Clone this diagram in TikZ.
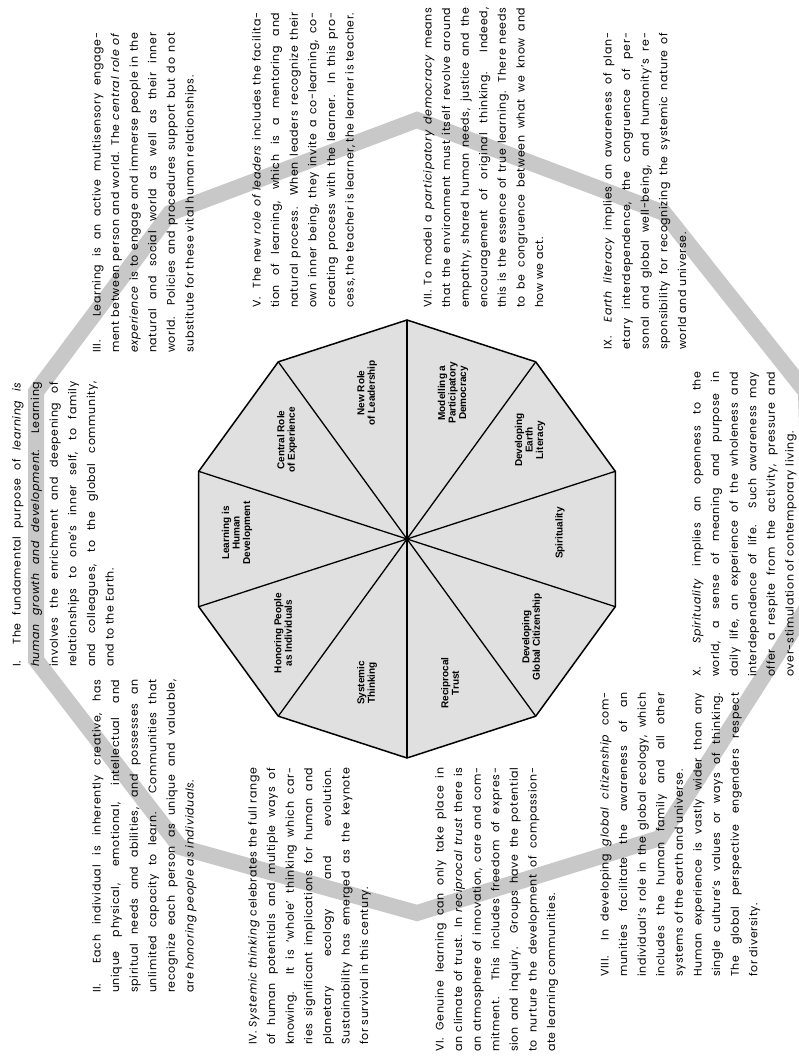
\documentclass[tikz,border=0pt]{standalone}
\usepackage{fontspec}
\usepackage{graphicx}
\setmainfont{Poppins}[LetterSpace=6]
\newfontfamily\labfont{Liberation Sans}
\usetikzlibrary{calc}
\definecolor{bandgray}{HTML}{C8C8C8}
\definecolor{secgray}{HTML}{E0E0E0}
\newlength{\blockw}
\newlength{\tmpw}
\newcommand{\J}[1]{\settowidth{\tmpw}{#1}%
  \ifdim\tmpw>\blockw\resizebox{\blockw}{\height}{#1}\else\makebox[\blockw][s]{#1}\fi}
\tikzset{
  para/.style={rotate=90, anchor=north west, inner sep=0pt, align=left,
    font=\fontsize{11}{18.6}\selectfont},
  seclab/.style={rotate=90, align=center, inner sep=0pt,
    font=\labfont\bfseries\fontsize{10}{10.5}\selectfont},
  band/.style={draw=bandgray, line width=16pt, line join=miter},
  rim/.style={draw=black, line width=1.5pt, line join=miter},
  spoke/.style={draw=black, line width=1.3pt},
}
\begin{document}
\begin{tikzpicture}[x=1pt,y=-1pt]
\useasboundingbox (0,0) rectangle (798,1059);
\fill[white] (0,0) rectangle (798,1059);
% grey band
\coordinate (b1) at (36,392);
\coordinate (b2) at (170,213);
\coordinate (b3) at (417,120);
\coordinate (b4) at (664,213);
\coordinate (b5) at (806,392);
\coordinate (b6) at (812,600);
\coordinate (b7) at (660,838);
\coordinate (b8) at (417,913);
\coordinate (b9) at (180,847);
\coordinate (b10) at (36,660);
\draw[band] (b1) -- (b2) -- (b3) -- (b4) -- (b5) -- (b6) -- (b7) -- (b8) -- (b9) -- (b10) -- cycle;
% decagon
\coordinate (c) at (407,539);
\foreach \i in {0,...,9} {
  \coordinate (v\i) at ($(c)+({90+36*\i}:219pt)$);
}
\fill[secgray] (v0) -- (v1) -- (v2) -- (v3) -- (v4) -- (v5) -- (v6) -- (v7) -- (v8) -- (v9) -- cycle;
\foreach \i in {1,2,3,4,6,7,8,9} { \draw[spoke] (c) -- (v\i); }
\draw[spoke, line width=2pt] (v0) -- (v5);
\draw[rim] (v0) -- (v1) -- (v2) -- (v3) -- (v4) -- (v5) -- (v6) -- (v7) -- (v8) -- (v9) -- cycle;
% sector labels
\node[seclab] (s1) at (367,393) {New Role\\of Leadership};
\node[seclab] (s2) at (453,393) {Modelling a\\Participatory\\Democracy};
\node[seclab] (s3) at (530,440) {Developing\\Earth\\Literacy};
\node[seclab] (s4) at (560,533) {Spirituality};
\node[seclab] (s5) at (532,637) {Developing\\Global Citizenship};
\node[seclab] (s6) at (450,683) {Reciprocal\\Trust};
\node[seclab] (s7) at (367,683) {Systemic\\Thinking};
\node[seclab] (s8) at (283,633) {Honoring People\\as Individuals};
\node[seclab] (s9) at (237,533) {Learning is\\Human\\Development};
\node[seclab] (s10) at (287,440) {Central Role\\of Experience};
% text blocks
\setlength{\blockw}{285pt}
\node[para] (tI) at (12,667) {\J{I.\ \ The fundamental purpose of \textit{learning is}}\\
\J{\textit{human growth and development}.\ \ Learning}\\
\J{involves the enrichment and deepening of}\\
\J{relationships to one's inner self, to family}\\
\J{and colleagues, to the global community,}\\
and to the Earth.};
\setlength{\blockw}{313pt}
\node[para] (tII) at (92,993) {\J{II.\ \ Each individual is inherently creative, has}\\
\J{unique physical, emotional, intellectual and}\\
\J{spiritual needs and abilities, and possesses an}\\
\J{unlimited capacity to learn. Communities that}\\
\J{recognize each person as unique and valuable,}\\
are \textit{honoring people as individuals}.};
\setlength{\blockw}{320pt}
\node[para] (tIII) at (92,353) {\J{III.\ \ \ Learning is an active multisensory engage-}\\
\J{ment between person and world. The \textit{central role of}}\\
\J{\textit{experience} is to engage and immerse people in the}\\
\J{natural and social world as well as their inner}\\
\J{world. Policies and procedures support but do not}\\
substitute for these vital human relationships.};
\setlength{\blockw}{277pt}
\node[para] (tIV) at (248,1045) {\J{IV. \textit{Systemic thinking} celebrates the full range}\\
\J{of human potentials and multiple ways of}\\
\J{knowing. It is `whole' thinking which car-}\\
\J{ries significant implications for human and}\\
\J{planetary ecology and evolution.}\\
\J{Sustainability has emerged as the keynote}\\
for survival in this century.};
\setlength{\blockw}{295pt}
\node[para] (tV) at (252,308) {\J{V.\ \ The new \textit{role of leaders} includes the facilita-}\\
\J{tion of learning, which is a mentoring and}\\
\J{natural process. When leaders recognize their}\\
\J{own inner being, they invite a co-learning, co-}\\
\J{creating process with the learner. In this pro-}\\
\J{cess, the teacher is learner, the learner is teacher.}};
\setlength{\blockw}{284pt}
\node[para] (tVI) at (435,1052) {\J{VI. Genuine learning can only take place in}\\
\J{an climate of trust. In \textit{reciprocal trust} there is}\\
\J{an atmosphere of innovation, care and com-}\\
\J{mitment. This includes freedom of expres-}\\
\J{sion and inquiry. Groups have the potential}\\
\J{to nurture the development of compassion-}\\
ate learning communities.};
\setlength{\blockw}{300pt}
\node[para] (tVII) at (423,308) {\J{VII. To model a \textit{participatory democracy} means}\\
\J{that the environment must itself revolve around}\\
\J{empathy, shared human needs, justice and the}\\
\J{encouragement of original thinking.\ \ Indeed,}\\
\J{this is the essence of true learning. There needs}\\
\J{to be congruence between what we know and}\\
how we act.};
\setlength{\blockw}{284pt}
\node[para] (tVIII) at (600,977) {\J{VIII.\ \ In developing \textit{global citizenship} com-}\\
\J{munities facilitate the awareness of an}\\
\J{individual's role in the global ecology, which}\\
\J{includes the human family and all other}\\
systems of the earth and universe.\\
\J{Human experience is vastly wider than any}\\
\J{single culture's values or ways of thinking.}\\
\J{The global perspective engenders respect}\\
for diversity.};
\setlength{\blockw}{317pt}
\node[para] (tIX) at (603,350) {\J{IX.\ \ \textit{Earth literacy} implies an awareness of plan-}\\
\J{etary interdependence, the congruence of per-}\\
\J{sonal and global well-being, and humanity's re-}\\
\J{sponsibility for recognizing the systemic nature of}\\
world and universe.};
\setlength{\blockw}{305pt}
\node[para] (tX) at (692,677) {\J{X.\ \ \textit{Spirituality} implies an openness to the}\\
\J{world, a sense of meaning and purpose in}\\
\J{daily life, an experience of the wholeness and}\\
\J{interdependence of life. Such awareness may}\\
\J{offer a respite from the activity, pressure and}\\
over-stimulation of contemporary living.};
\end{tikzpicture}
\end{document}
